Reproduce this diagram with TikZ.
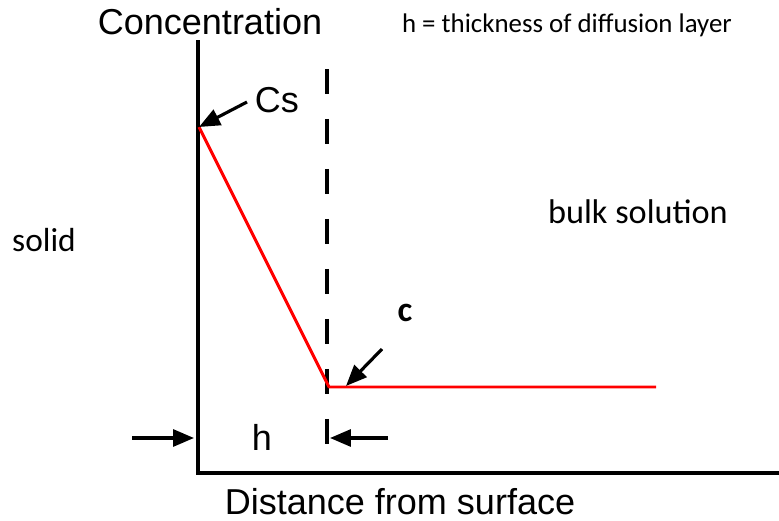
\documentclass[tikz,border=0pt]{standalone}
\usepackage{fontspec}
\setmainfont{Liberation Sans}
\newfontfamily\calibri{Carlito}
\usetikzlibrary{arrows.meta}

\begin{document}
\begin{tikzpicture}[x=0.02cm,y=-0.02cm,axis/.style={line width=2.5pt},profile/.style={red,line width=1.7pt},layer/.style={line width=1.8pt,dash pattern=on 0.5cm off 0.5cm},pointer/.style={line width=1.8pt,-{Triangle[length=4.2mm,width=3.4mm]}},arial/.style={font=\fontsize{20.5}{24}\selectfont,inner sep=0pt},note/.style={font=\calibri\fontsize{19.5}{23}\selectfont,inner sep=0pt}]
\useasboundingbox (0,0) rectangle (779,521);
\coordinate (O) at (198,473);
\coordinate (T) at (198,40);
\coordinate (X) at (779,473);
\coordinate (D1) at (327,69);
\coordinate (D2) at (327,448);
\coordinate (S) at (199,127);
\coordinate (K) at (329,387);
\coordinate (E) at (656,387);
\coordinate (P1) at (247,102);
\coordinate (P2) at (382,349);
\coordinate (L1) at (132,438);
\coordinate (L2) at (194,438);
\coordinate (R1) at (388,438);
\coordinate (R2) at (330,438);
\draw[axis] (T) -- (O) -- (X);
\draw[layer] (D1) -- (D2);
\draw[profile,line join=round] (S) -- (K) -- (E);
\draw[pointer] (P1) -- (S);
\draw[pointer] (P2) -- (346,386);
\draw[pointer] (L1) -- (L2);
\draw[pointer] (R1) -- (R2);
\node[arial] (conc) at (210,22) {Concentration};
\node[note,font=\calibri\fontsize{15.3}{18}\selectfont] (def) at (567,25) {h = thickness of diffusion layer};
\node[arial] (cs) at (277,100) {Cs};
\node[note,font=\calibri\fontsize{19}{23}\selectfont] (solid) at (44,240) {solid};
\node[note] (bulk) at (638,212) {bulk solution};
\node[note,font=\calibri\bfseries\fontsize{20}{24}\selectfont] (c) at (405,313) {c};
\node[arial] (h) at (262,437) {h};
\node[arial] (dist) at (400,502) {Distance from surface};
\end{tikzpicture}
\end{document}
